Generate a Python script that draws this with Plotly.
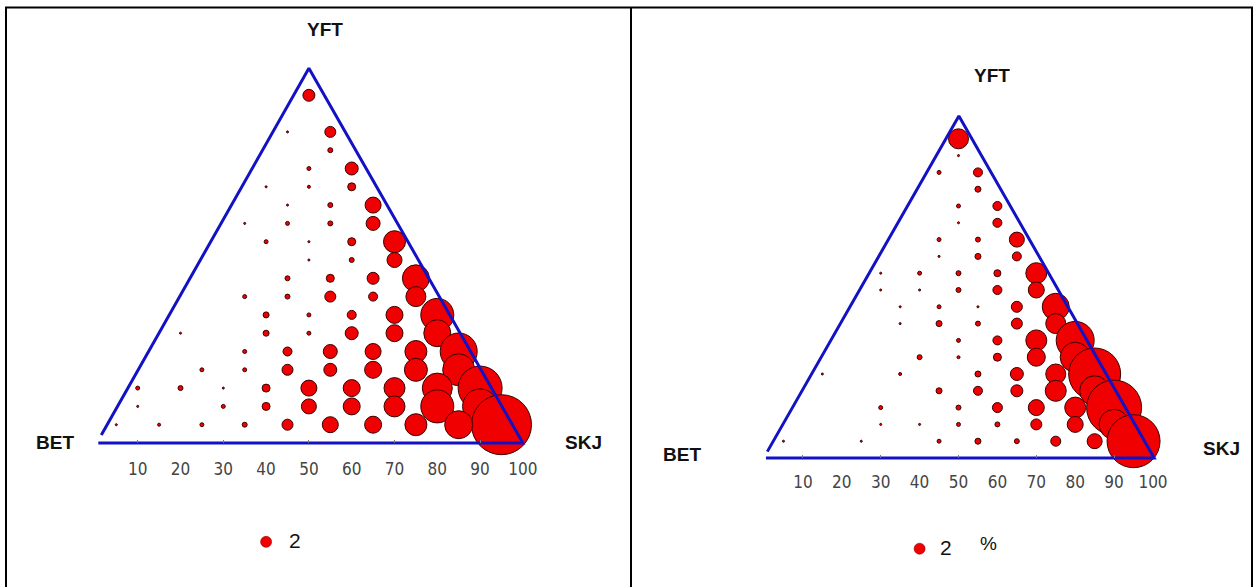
import plotly.graph_objects as go

W, H = 1257, 587

# ---------------- data ----------------
TICKS = [10, 20, 30, 40, 50, 60, 70, 80, 90, 100]
MINOR_TICKS = [10, 30, 50, 70, 90]
CORNERS = ["BET", "SKJ", "YFT"]
LEGEND_VALUE = 2

# left panel: position along BET->SKJ axis, YFT level, bubble value (%)
L_POS = [5, 15, 25, 35, 45, 55, 65, 75, 85, 95,
         10, 30, 40, 50, 60, 70, 80, 90,
         10, 20, 30, 40, 50, 60, 70, 80, 90,
         25, 35, 45, 55, 65, 75, 85,
         35, 45, 55, 65, 75, 85,
         20, 40, 50, 60, 70, 80,
         40, 50, 60, 70, 80,
         35, 45, 55, 65, 75,
         45, 55, 65, 75,
         50, 60, 70,
         40, 50, 60, 70,
         35, 45, 55, 65,
         45, 55, 65,
         40, 50, 60,
         50, 60,
         55,
         45, 55,
         50]
L_YFT = [5, 5, 5, 5, 5, 5, 5, 5, 5, 5,
         10, 10, 10, 10, 10, 10, 10, 10,
         15, 15, 15, 15, 15, 15, 15, 15, 15,
         20, 20, 20, 20, 20, 20, 20,
         25, 25, 25, 25, 25, 25,
         30, 30, 30, 30, 30, 30,
         35, 35, 35, 35, 35,
         40, 40, 40, 40, 40,
         45, 45, 45, 45,
         50, 50, 50,
         55, 55, 55, 55,
         60, 60, 60, 60,
         65, 65, 65,
         70, 70, 70,
         75, 75,
         80,
         85, 85,
         95]
L_VAL = [0.07, 0.15, 0.26, 0.41, 2.00, 4.23, 4.78, 8.00, 12.96, 59.50,
         0.07, 0.26, 1.06, 3.72, 4.78, 7.29, 18.00, 20.25,
         0.26, 0.41, 0.07, 1.06, 4.23, 4.78, 7.29, 14.88, 32.00,
         0.26, 0.26, 2.00, 2.79, 4.78, 8.74, 16.93,
         0.26, 1.34, 3.24, 4.23, 8.00, 22.63,
         0.07, 0.60, 0.26, 2.79, 4.78, 12.05,
         0.60, 0.26, 1.34, 4.78, 18.00,
         0.26, 0.41, 2.00, 1.34, 6.61,
         0.41, 1.06, 2.38, 12.05,
         0.07, 0.41, 3.72,
         0.26, 0.07, 1.06, 8.00,
         0.07, 0.26, 0.41, 3.24,
         0.07, 0.41, 4.23,
         0.07, 0.15, 1.06,
         0.26, 2.79,
         0.41,
         0.07, 2.00,
         2.38]

# right panel
R_POS = [5, 25, 45, 55, 65, 75, 85, 95,
         30, 40, 50, 60, 70, 80, 90,
         30, 50, 60, 70, 80, 90,
         45, 55, 65, 75, 85,
         15, 35, 55, 65, 75, 85,
         40, 50, 60, 70, 80,
         50, 60, 70, 80,
         35, 45, 55, 65, 75,
         35, 45, 55, 65, 75,
         30, 40, 50, 60, 70,
         30, 40, 50, 60, 70,
         45, 55, 65,
         45, 55, 65,
         50, 60,
         50, 60,
         55,
         45, 55,
         50,
         50]
R_YFT = [5, 5, 5, 5, 5, 5, 5, 5,
         10, 10, 10, 10, 10, 10, 10,
         15, 15, 15, 15, 15, 15,
         20, 20, 20, 20, 20,
         25, 25, 25, 25, 25, 25,
         30, 30, 30, 30, 30,
         35, 35, 35, 35,
         40, 40, 40, 40, 40,
         45, 45, 45, 45, 45,
         50, 50, 50, 50, 50,
         55, 55, 55, 55, 55,
         60, 60, 60,
         65, 65, 65,
         70, 70,
         75, 75,
         80,
         85, 85,
         90,
         95]
R_VAL = [0.07, 0.07, 0.26, 0.60, 0.41, 1.65, 3.72, 46.43,
         0.07, 0.07, 0.26, 0.41, 2.00, 4.23, 14.88,
         0.26, 0.41, 1.65, 4.23, 7.29, 50.00,
         0.60, 1.34, 2.38, 7.29, 14.88,
         0.07, 0.15, 0.60, 2.79, 6.61, 44.69,
         0.41, 0.15, 1.06, 5.36, 14.88,
         0.26, 1.34, 7.29, 23.87,
         0.07, 0.60, 0.41, 2.00, 6.61,
         0.07, 0.26, 0.07, 2.00, 12.05,
         0.07, 0.07, 0.41, 1.34, 4.23,
         0.07, 0.26, 0.41, 0.81, 7.29,
         0.07, 0.60, 1.34,
         0.26, 0.41, 3.72,
         0.07, 1.34,
         0.26, 1.34,
         0.60,
         0.26, 1.34,
         0.07,
         6.61]

# ---------------- styling / layout ----------------
RED = "#f00000"
EDGE = "#3a0000"
BLUE = "#1212c4"
SIZEREF = 1 / 30.25  # area sizing: value 2 -> 11 px bubble

# pixel anchors for each panel: x0 px of 0, px per unit x, base y px, px per unit y
PANELS = {
    "L": dict(x0=94.9, sx=4.28, yb=443.0, sy=3.66, dom=[0.0, 0.5]),
    "R": dict(x0=764.0, sx=3.89, yb=458.0, sy=3.36, dom=[0.5, 1.0]),
}


def ranges(p):
    d0, d1 = p["dom"][0] * W, p["dom"][1] * W
    xr = [(d0 - p["x0"]) / p["sx"], (d1 - p["x0"]) / p["sx"]]
    yr = [(p["yb"] - H) / p["sy"], p["yb"] / p["sy"]]
    return xr, yr


fig = go.Figure()


def add_panel(pos, yft, val, xa, ya, tri):
    order = list(range(len(pos)))[::-1]  # upper rows first, lower rows on top
    fig.add_trace(go.Scatter(
        x=[pos[i] for i in order], y=[yft[i] for i in order],
        mode="markers", xaxis=xa, yaxis=ya, showlegend=False, hoverinfo="skip",
        marker=dict(size=[val[i] for i in order], sizemode="area", sizeref=SIZEREF,
                    color=RED, line=dict(color=EDGE, width=1), opacity=1),
        cliponaxis=False))
    # triangle frame
    (bx0, by0), (bx1, by1), (ax, ay), (lx, ly) = tri
    fig.add_trace(go.Scatter(
        x=[lx, ax, bx1, bx0], y=[ly, ay, by1, by0], mode="lines",
        xaxis=xa, yaxis=ya, showlegend=False, hoverinfo="skip",
        line=dict(color=BLUE, width=3), cliponaxis=False))
    # legend bubble
    fig.add_trace(go.Scatter(
        x=[40], y=[-27], mode="markers", xaxis=xa, yaxis=ya, showlegend=False,
        hoverinfo="skip",
        marker=dict(size=[LEGEND_VALUE], sizemode="area", sizeref=SIZEREF,
                    color=RED, opacity=1, line=dict(color="#8a0000", width=0.6)),
        cliponaxis=False))


add_panel(L_POS, L_YFT, L_VAL, "x", "y",
          [(0.8, 0), (100, 0), (50.0, 102.4), (1.5, 2.2)])
add_panel(R_POS, R_YFT, R_VAL, "x2", "y2",
          [(0.5, 0), (100.3, 0), (50.1, 101.8), (0.85, 1.9)])

tickfont = dict(family="Liberation Sans Narrow, DejaVu Sans Condensed, Arial Narrow, sans-serif",
                size=17, color="#444444")

layout_axes = {}
for key, xa, ya in (("L", "xaxis", "yaxis"), ("R", "xaxis2", "yaxis2")):
    p = PANELS[key]
    xr, yr = ranges(p)
    layout_axes[xa] = dict(
        domain=p["dom"], range=xr, anchor="free", position=(H - p["yb"]) / H,
        showgrid=False, zeroline=False, showline=False,
        tickmode="array", tickvals=TICKS, ticktext=[str(t) for t in TICKS],
        ticks="", tickfont=tickfont, ticklabelstandoff=14 if key == "L" else 12,
        minor=dict(tickmode="array", tickvals=MINOR_TICKS, ticks="inside",
                   ticklen=3, tickcolor="#777", tickwidth=1),
        fixedrange=True)
    layout_axes[ya] = dict(domain=[0, 1], range=yr, visible=False, fixedrange=True)

labfont = dict(family="Liberation Sans, Arial, sans-serif", size=19, color="#111")
numfont = dict(family="Liberation Sans, Arial, sans-serif", size=21, color="#111")


def ann(text, px, py, font, bold=True):
    return dict(text=("<b>%s</b>" % text) if bold else text, x=px / W, y=1 - py / H,
                xref="paper", yref="paper", showarrow=False, font=font,
                xanchor="center", yanchor="middle")


annotations = [
    ann(CORNERS[2], 325, 29, labfont), ann(CORNERS[0], 55, 442, labfont),
    ann(CORNERS[1], 583, 442, labfont),
    ann(CORNERS[2], 992, 75, labfont), ann(CORNERS[0], 682, 454, labfont),
    ann(CORNERS[1], 1221, 448, labfont),
    ann(str(LEGEND_VALUE), 295, 540, numfont, bold=False),
    ann(str(LEGEND_VALUE), 946, 547, numfont, bold=False),
    ann("%", 988, 543, dict(family="Liberation Sans, Arial, sans-serif", size=19, color="#111"), bold=False),
]

frame = dict(color="black", width=2)
shapes = [
    dict(type="line", xref="paper", yref="paper", x0=5 / W, x1=1253 / W,
         y0=1 - 7.5 / H, y1=1 - 7.5 / H, line=frame),
    dict(type="line", xref="paper", yref="paper", x0=6 / W, x1=6 / W,
         y0=0, y1=1 - 7.5 / H, line=frame),
    dict(type="line", xref="paper", yref="paper", x0=631 / W, x1=631 / W,
         y0=0, y1=1 - 7.5 / H, line=frame),
    dict(type="line", xref="paper", yref="paper", x0=1252 / W, x1=1252 / W,
         y0=0, y1=1 - 7.5 / H, line=frame),
]

fig.update_layout(
    width=W, height=H, margin=dict(l=0, r=0, t=0, b=0),
    paper_bgcolor="white", plot_bgcolor="rgba(0,0,0,0)",
    annotations=annotations, shapes=shapes, showlegend=False,
    **layout_axes)

fig.write_html("out.html", config={"displayModeBar": False})
